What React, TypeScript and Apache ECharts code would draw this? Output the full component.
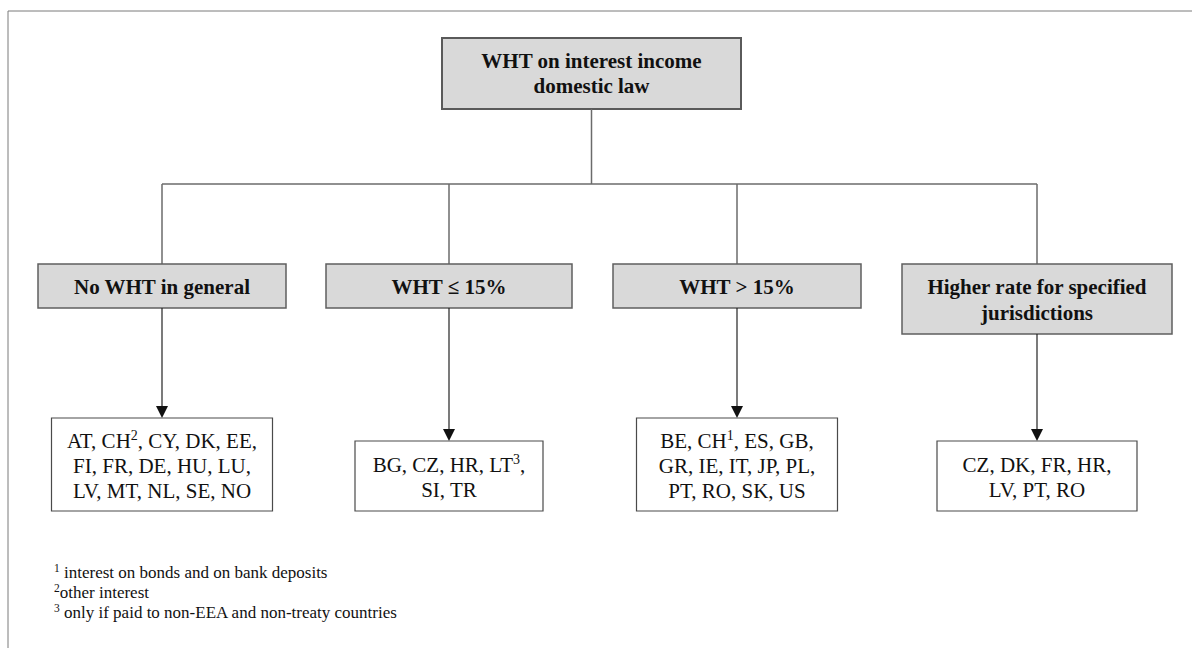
import React, { useEffect, useRef } from "react";
import * as echarts from "echarts";

// ---- data ----
const rootLabel = ["WHT on interest income", "domestic law"];
const categories = [
  ["No WHT in general"],
  ["WHT ≤ 15%"],
  ["WHT > 15%"],
  ["Higher rate for specified", "jurisdictions"],
];
const noWhtCountries = ["AT", "CH^2", "CY", "DK", "EE", "FI", "FR", "DE", "HU", "LU", "LV", "MT", "NL", "SE", "NO"];
const lowWhtCountries = ["BG", "CZ", "HR", "LT^3", "SI", "TR"];
const highWhtCountries = ["BE", "CH^1", "ES", "GB", "GR", "IE", "IT", "JP", "PL", "PT", "RO", "SK", "US"];
const specifiedCountries = ["CZ", "DK", "FR", "HR", "LV", "PT", "RO"];
const countryGroups = [noWhtCountries, lowWhtCountries, highWhtCountries, specifiedCountries];
const perLine = [[5, 5, 5], [4, 2], [4, 5, 4], [4, 3]];
const footnoteMarks = ["1", "2", "3"];
const footnoteTexts = [
  " interest on bonds and on bank deposits",
  "other interest",
  " only if paid to non-EEA and non-treaty countries",
];

// ---- layout ----
const FONT = "'Liberation Serif', 'Times New Roman', serif";
const ROOT = { x: 442, y: 38, w: 299, h: 71 };
const BUS_Y = 184;
const L1 = [
  { cx: 162, w: 248, y: 264, h: 44 },
  { cx: 449, w: 246, y: 264, h: 44 },
  { cx: 737, w: 248, y: 264, h: 44 },
  { cx: 1037, w: 270, y: 264, h: 70 },
];
const L2 = [
  { w: 221, y: 418, h: 93 },
  { w: 188, y: 441, h: 70 },
  { w: 201, y: 418, h: 93 },
  { w: 200, y: 441, h: 70 },
];

function toRich(code: string) {
  const i = code.indexOf("^");
  if (i < 0) return code;
  return code.slice(0, i) + "{sup|" + code.slice(i + 1) + "}";
}

function countryText(list: string[], lines: number[]) {
  const out: string[] = [];
  let k = 0;
  lines.forEach((n, li) => {
    const part = list.slice(k, k + n).map(toRich).join(", ");
    k += n;
    out.push(li < lines.length - 1 ? part + "," : part);
  });
  return out.join("\n");
}

export default function App() {
  const ref = useRef<HTMLDivElement>(null);
  useEffect(() => {
    if (!ref.current) return;
    const chart = echarts.init(ref.current, undefined, { renderer: "svg" });
    const g: any[] = [];
    const lineCol = "#6b6b6b";

    // outer frame
    g.push({ type: "line", shape: { x1: 8, y1: 11, x2: 1192, y2: 11 }, style: { stroke: "#7a7a7a", lineWidth: 1 } });
    g.push({ type: "line", shape: { x1: 8, y1: 11, x2: 8, y2: 648 }, style: { stroke: "#7a7a7a", lineWidth: 1 } });

    // root box
    g.push({
      type: "rect",
      shape: { x: ROOT.x, y: ROOT.y, width: ROOT.w, height: ROOT.h },
      style: { fill: "#d9d9d9", stroke: "#5a5a5a", lineWidth: 2 },
    });
    g.push({
      type: "text",
      x: ROOT.x + ROOT.w / 2,
      y: ROOT.y + ROOT.h / 2,
      style: {
        text: rootLabel.join("\n"),
        fill: "#111",
        fontFamily: FONT,
        fontWeight: "bold",
        fontSize: 21,
        lineHeight: 25,
        align: "center",
        verticalAlign: "middle",
      },
    });
    const rootCx = ROOT.x + ROOT.w / 2;
    g.push({ type: "line", shape: { x1: rootCx, y1: ROOT.y + ROOT.h, x2: rootCx, y2: BUS_Y }, style: { stroke: lineCol, lineWidth: 1.5 } });
    g.push({ type: "line", shape: { x1: L1[0].cx, y1: BUS_Y, x2: L1[L1.length - 1].cx, y2: BUS_Y }, style: { stroke: lineCol, lineWidth: 1.5 } });

    L1.forEach((b, i) => {
      g.push({ type: "line", shape: { x1: b.cx, y1: BUS_Y, x2: b.cx, y2: b.y }, style: { stroke: lineCol, lineWidth: 1.5 } });
      g.push({
        type: "rect",
        shape: { x: b.cx - b.w / 2, y: b.y, width: b.w, height: b.h },
        style: { fill: "#d9d9d9", stroke: "#5f5f5f", lineWidth: 1.5 },
      });
      g.push({
        type: "text",
        x: b.cx,
        y: b.y + b.h / 2 + 1,
        style: {
          text: categories[i].join("\n"),
          fill: "#111",
          fontFamily: FONT,
          fontWeight: "bold",
          fontSize: 21,
          lineHeight: 26,
          align: "center",
          verticalAlign: "middle",
        },
      });
      const c = L2[i];
      const tipY = c.y;
      g.push({ type: "line", shape: { x1: b.cx, y1: b.y + b.h, x2: b.cx, y2: tipY - 10 }, style: { stroke: "#222", lineWidth: 1.2 } });
      g.push({
        type: "polygon",
        shape: { points: [[b.cx - 6, tipY - 12], [b.cx + 6, tipY - 12], [b.cx, tipY]] },
        style: { fill: "#111" },
      });
      g.push({
        type: "rect",
        shape: { x: b.cx - c.w / 2, y: c.y, width: c.w, height: c.h },
        style: { fill: "#fff", stroke: "#4a4a4a", lineWidth: 1.2 },
      });
      g.push({
        type: "text",
        x: b.cx,
        y: c.y + c.h / 2 + 1,
        style: {
          text: countryText(countryGroups[i], perLine[i]),
          fill: "#111",
          fontFamily: FONT,
          fontSize: 21,
          lineHeight: 25,
          align: "center",
          verticalAlign: "middle",
          rich: {
            sup: { fontFamily: FONT, fontSize: 14, fill: "#111", lineHeight: 20, verticalAlign: "top" },
          },
        },
      });
    });

    // footnotes
    footnoteMarks.forEach((m, i) => {
      g.push({
        type: "text",
        x: 54,
        y: 572 + i * 20,
        style: {
          text: "{sup|" + m + "}" + footnoteTexts[i],
          fill: "#111",
          fontFamily: FONT,
          fontSize: 17,
          lineHeight: 20,
          align: "left",
          verticalAlign: "middle",
          rich: {
            sup: { fontFamily: FONT, fontSize: 11.5, fill: "#111", lineHeight: 14, verticalAlign: "top" },
          },
        },
      });
    });

    chart.setOption({ animation: false, backgroundColor: "#ffffff", graphic: { elements: g } });
    return () => chart.dispose();
  }, []);
  return <div ref={ref} style={{ position: "fixed", left: 0, top: 0, width: 1192, height: 648 }} />;
}
